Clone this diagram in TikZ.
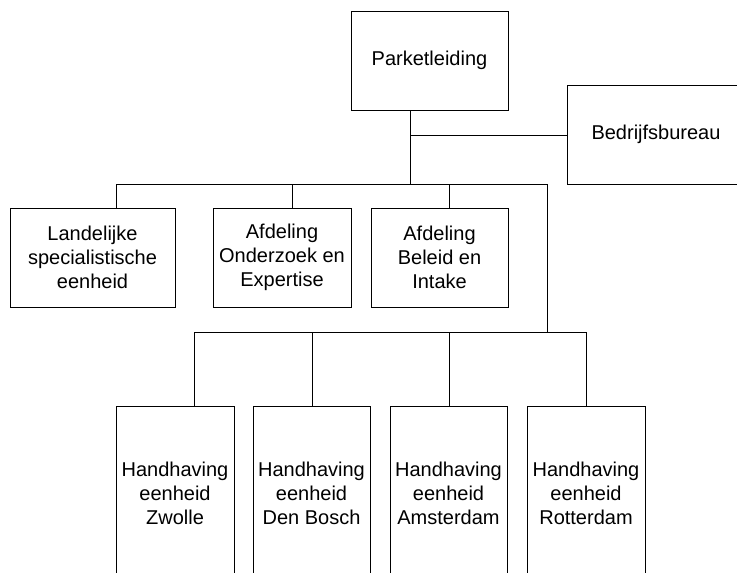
\documentclass[tikz,border=0pt]{standalone}
\usepackage{fontspec}
\setmainfont{Liberation Sans}
\begin{document}
\begin{tikzpicture}[x=1pt,y=-1pt,
  unit/.style={draw, line width=1pt, rectangle, align=center, inner sep=0pt,
    font=\fontsize{20}{24}\selectfont},
  link/.style={line width=1pt}]
\useasboundingbox (0,0) rectangle (737,573);
\clip (0,0) rectangle (737,573);

% management and staff
\node[unit, minimum width=157pt, minimum height=99pt] (P) at (429.5,60.5) {Parketleiding};
\node[unit, minimum width=178pt, minimum height=99pt] (B) at (656,134.5) {Bedrijfsbureau};

% departments
\node[unit, minimum width=165pt, minimum height=99pt] (L1) at (92.5,257.5) {Landelijke\\specialistische\\eenheid};
\node[unit, minimum width=138pt, minimum height=99pt] (L2) at (282,257.5) {Afdeling\\Onderzoek en\\Expertise};
\node[unit, minimum width=137pt, minimum height=99pt] (L3) at (439.5,257.5) {Afdeling\\Beleid en\\Intake};

% enforcement units
\node[unit, minimum width=118pt, minimum height=175pt] (H1) at (175,493.5) {Handhaving\\eenheid\\Zwolle};
\node[unit, minimum width=117pt, minimum height=175pt] (H2) at (311.5,493.5) {Handhaving\\eenheid\\Den Bosch};
\node[unit, minimum width=117pt, minimum height=175pt] (H3) at (448.5,493.5) {Handhaving\\eenheid\\Amsterdam};
\node[unit, minimum width=118pt, minimum height=175pt] (H4) at (586,493.5) {Handhaving\\eenheid\\Rotterdam};

% junction points
\coordinate (j1) at (410,135);
\coordinate (j2) at (410,184);
\coordinate (busL) at (116,184);
\coordinate (busR) at (547,184);
\coordinate (d2) at (292,184);
\coordinate (d3) at (449,184);
\coordinate (lowL) at (194,332);
\coordinate (lowR) at (586,332);
\coordinate (lowJ) at (547,332);
\coordinate (e2) at (312,332);
\coordinate (e3) at (449,332);

% connectors
\draw[link] (P.south -| j1) -- (j2);
\draw[link] (j1) -- (B.west |- j1);
\draw[link] (busL) -- (busR);
\draw[link] (busL) -- (busL |- L1.north);
\draw[link] (d2) -- (d2 |- L2.north);
\draw[link] (d3) -- (d3 |- L3.north);
\draw[link] (busR) -- (lowJ);
\draw[link] (lowL) -- (lowR);
\draw[link] (lowL) -- (lowL |- H1.north);
\draw[link] (e2) -- (e2 |- H2.north);
\draw[link] (e3) -- (e3 |- H3.north);
\draw[link] (lowR) -- (lowR |- H4.north);
\end{tikzpicture}
\end{document}
